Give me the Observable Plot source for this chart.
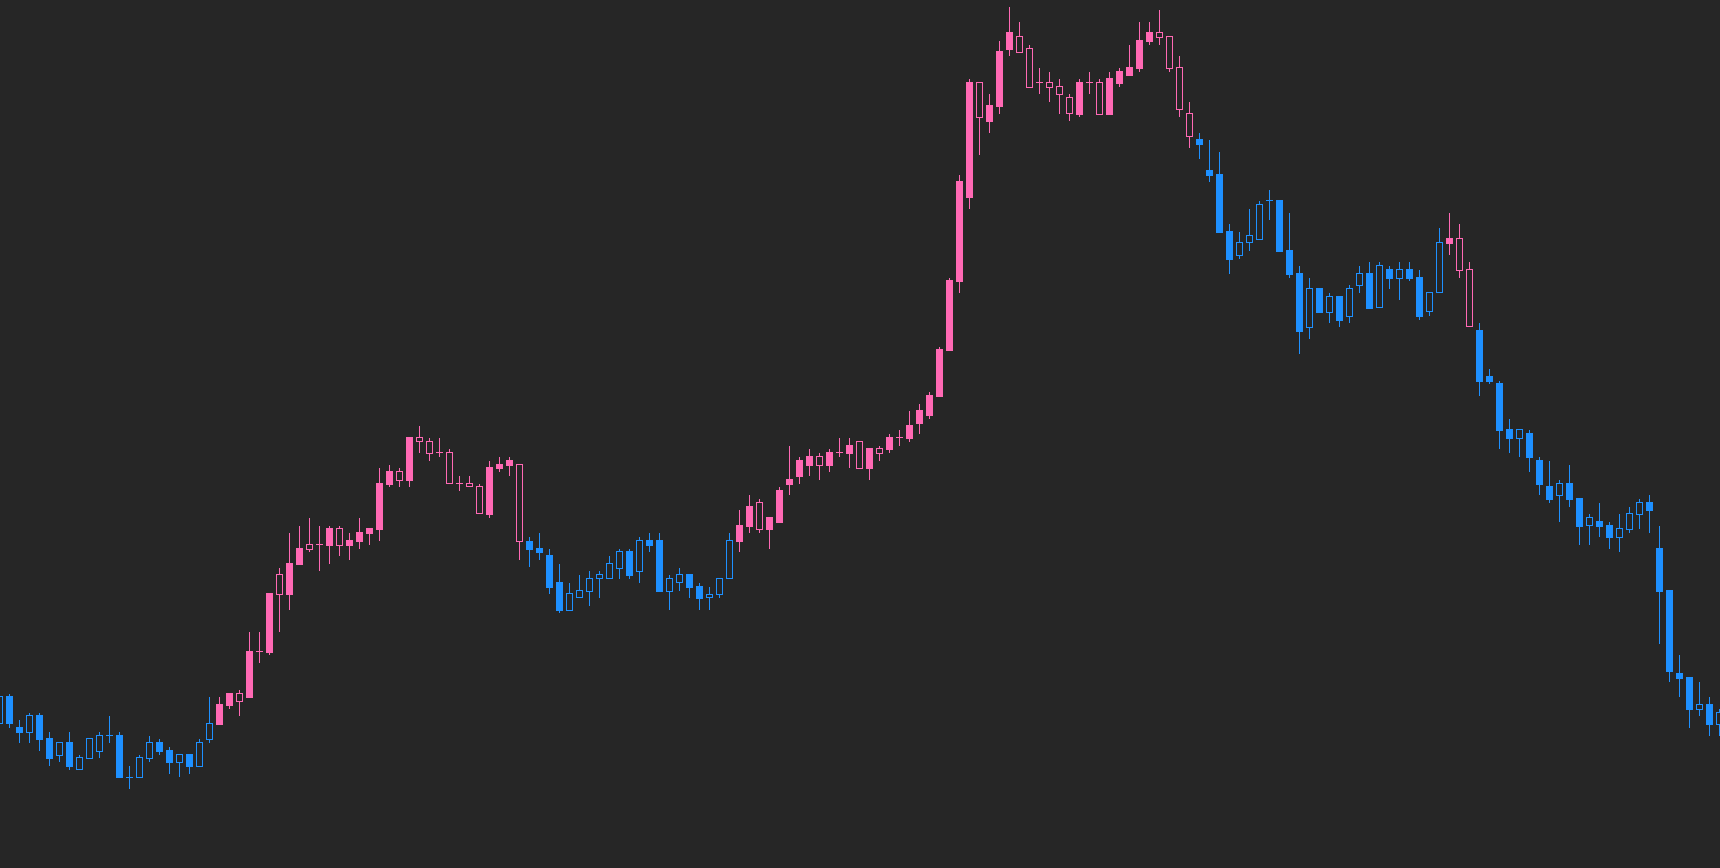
<!DOCTYPE html>
<html>
<head>
<meta charset="utf-8">
<script src="https://cdn.jsdelivr.net/npm/d3@7"></script>
<script src="https://cdn.jsdelivr.net/npm/@observablehq/plot@0.6"></script>
<style>
  html, body { margin: 0; padding: 0; background: #262626; overflow: hidden; }
  #chart svg { display: block; }
</style>
</head>
<body>
<div id="chart"></div>
<script>
// OHLC series (one value per candle, oldest first)
const opens = [
  145,172,141,136,153,130,113,126,99,110,
  117,133,133,91,91,110,126,118,106,114,
  102,129,144,163,175,171,217,216,294,274,
  304,324,324,323,340,323,327,335,339,384,
  397,388,431,427,416,416,385,385,382,354,
  400,403,404,327,320,313,286,258,271,277,
  290,290,300,317,297,328,328,277,286,294,
  282,271,274,290,327,342,366,339,346,384,
  392,403,412,403,416,415,427,400,420,419,
  431,430,445,453,472,518,587,671,786,747,
  762,819,832,820,786,786,782,771,754,786,
  786,754,785,793,800,827,836,832,801,755,
  729,698,694,637,613,626,629,668,668,618,
  595,541,580,556,572,552,583,595,561,599,
  590,599,591,557,576,625,630,599,538,492,
  485,439,430,435,408,382,373,385,370,343,
  347,343,331,339,354,366,320,278,195,191,
  159,164,144
];
const highs = [
  174,174,148,155,155,136,126,136,113,130,
  136,152,136,102,113,132,129,121,114,114,
  129,171,171,175,178,236,236,275,300,335,
  342,350,342,342,342,335,350,340,400,403,
  400,431,442,430,430,419,392,392,384,407,
  411,411,404,331,335,319,304,285,293,297,
  297,312,319,319,331,335,335,293,300,294,
  285,281,290,335,358,373,369,351,381,422,
  411,419,415,419,430,430,427,420,422,434,
  438,457,464,476,521,590,693,789,786,774,
  827,861,846,823,800,796,789,774,789,796,
  789,796,800,823,846,846,858,832,812,766,
  735,728,716,644,636,659,667,678,668,655,
  602,590,580,575,572,583,602,606,606,602,
  606,606,598,576,640,655,644,606,545,499,
  487,449,439,438,411,407,388,403,370,354,
  365,346,354,361,369,373,342,278,213,191,
  186,171,159
];
const lows = [
  142,140,125,125,117,102,106,98,99,110,
  110,125,91,79,91,106,113,94,91,94,
  102,125,144,159,152,171,205,213,236,258,
  304,316,297,304,312,308,319,323,327,381,
  381,381,415,407,411,385,377,382,355,350,
  396,392,308,301,308,274,255,258,271,262,
  270,290,289,289,285,316,277,258,277,270,
  258,258,270,290,316,335,335,319,346,373,
  384,392,388,396,411,400,400,388,407,415,
  422,426,434,449,471,518,575,659,713,735,
  754,812,816,781,774,766,754,747,751,774,
  754,754,781,793,796,823,823,796,751,720,
  709,686,636,594,609,617,629,648,617,590,
  514,529,556,545,541,545,575,560,561,579,
  568,587,548,552,576,613,590,542,472,484,
  419,415,411,396,373,365,346,361,323,323,
  331,319,316,335,339,335,224,186,171,140,
  152,132,132
];
const closes = [
  172,145,136,153,129,110,126,102,111,130,
  133,133,91,91,111,126,117,106,114,102,
  126,145,164,175,167,217,217,275,274,305,
  320,319,324,340,323,328,336,340,385,397,
  388,431,427,415,416,385,385,382,355,401,
  404,408,327,319,316,281,258,275,278,290,
  294,305,317,293,328,323,277,290,294,281,
  270,274,290,328,343,362,339,351,378,389,
  408,412,403,416,416,423,400,420,415,431,
  431,443,458,473,519,588,687,786,751,763,
  817,836,816,781,786,781,774,755,786,786,
  754,790,797,801,828,836,831,800,759,732,
  724,693,636,609,626,633,664,668,617,594,
  537,580,556,572,548,580,595,560,603,590,
  599,590,552,576,626,630,598,542,487,487,
  438,430,439,411,384,369,385,369,342,351,
  342,331,340,355,366,358,277,197,190,159,
  164,144,156
];
// trend regimes: [direction, number of candles]
const trendRuns = [["down",22],["up",31],["down",21],["up",46],["down",25],["up",3],["down",25]];
const trendColors = {up: "#ff69b4", down: "#1e90ff"};

const trend = trendRuns.flatMap(([t, n]) => Array(n).fill(t));
const candles = opens.map((o, i) => {
  const c = closes[i];
  const t = trend[i];
  const solid = o === c || (t === "up" ? c > o : c < o);
  return {i, o, h: highs[i], l: lows[i], c, t, col: trendColors[t], solid,
          top: Math.max(o, c), bot: Math.min(o, c)};
});

const chart = Plot.plot({
  width: 1720,
  height: 868,
  margin: 0,
  style: {background: "#262626"},
  x: {type: "linear", domain: [0.1, 172.1], axis: null},
  y: {type: "linear", domain: [0, 868], axis: null},
  color: {type: "identity"},
  marks: [
    Plot.ruleX(candles, {x: "i", y1: "top", y2: "h", stroke: "col", strokeWidth: 1}),
    Plot.ruleX(candles, {x: "i", y1: "l", y2: "bot", stroke: "col", strokeWidth: 1}),
    Plot.rect(candles.filter(d => d.solid), {
      x1: d => d.i - 0.35, x2: d => d.i + 0.35, y1: "bot", y2: "top",
      fill: "col", insetTop: -0.5, insetBottom: -0.5, dx: 0.5, dy: 0.5
    }),
    Plot.rect(candles.filter(d => !d.solid), {
      x1: d => d.i - 0.3, x2: d => d.i + 0.3, y1: "bot", y2: "top",
      fill: "none", stroke: "col", strokeWidth: 1, dx: 0.5, dy: 0.5
    })
  ]
});
document.getElementById("chart").appendChild(chart);
</script>
</body>
</html>
